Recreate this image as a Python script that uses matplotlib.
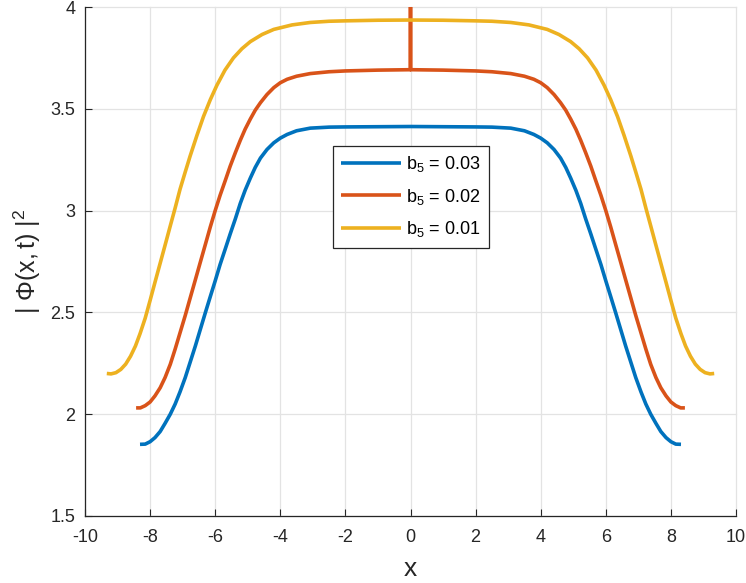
import matplotlib
matplotlib.use("Agg")
import matplotlib.pyplot as plt

plt.rcParams['font.family'] = ['Liberation Sans', 'DejaVu Sans']
plt.rcParams['mathtext.fontset'] = 'custom'
plt.rcParams['mathtext.rm'] = 'Liberation Sans'
plt.rcParams['mathtext.it'] = 'Liberation Sans'
plt.rcParams['mathtext.bf'] = 'Liberation Sans:bold'

# ---- data ----
x_b003 = [-8.31, -8.15, -8.00, -7.85, -7.69, -7.54, -7.38, -7.23, -7.08, -6.92, -6.77, -6.61,
          -6.46, -6.30, -6.15, -6.00, -5.85, -5.69, -5.54, -5.38, -5.23, -5.08, -4.92, -4.77,
          -4.61, -4.41, -4.20, -4.00, -3.79, -3.50, -3.08, -2.50, -2.00, -1.00, 0.00,
          1.00, 2.00, 2.50, 3.08, 3.50, 3.79, 4.00, 4.20, 4.41, 4.61, 4.77, 4.92, 5.08, 5.23,
          5.38, 5.54, 5.69, 5.85, 6.00, 6.15, 6.30, 6.46, 6.61, 6.77, 6.92, 7.08, 7.23, 7.38,
          7.54, 7.69, 7.85, 8.00, 8.15, 8.31]
y_b003 = [1.852, 1.853, 1.865, 1.885, 1.915, 1.955, 2.000, 2.050, 2.110, 2.180, 2.255, 2.335,
          2.415, 2.500, 2.578, 2.655, 2.735, 2.812, 2.885, 2.960, 3.035, 3.100, 3.160, 3.212,
          3.258, 3.300, 3.333, 3.356, 3.374, 3.392, 3.405, 3.410, 3.411, 3.412, 3.413,
          3.412, 3.411, 3.410, 3.405, 3.392, 3.374, 3.356, 3.333, 3.300, 3.258, 3.212, 3.160,
          3.100, 3.035, 2.960, 2.885, 2.812, 2.735, 2.655, 2.578, 2.500, 2.415, 2.335, 2.255,
          2.180, 2.110, 2.050, 2.000, 1.955, 1.915, 1.885, 1.865, 1.853, 1.852]

x_b002 = [-8.43, -8.30, -8.15, -8.00, -7.85, -7.69, -7.54, -7.38, -7.23, -7.08, -6.92, -6.77,
          -6.61, -6.46, -6.30, -6.15, -6.00, -5.85, -5.69, -5.54, -5.38, -5.23, -5.08, -4.92,
          -4.77, -4.61, -4.41, -4.20, -4.00, -3.79, -3.50, -3.08, -2.50, -2.00, -1.00, -0.01,
          0.00,
          0.01, 1.00, 2.00, 2.50, 3.08, 3.50, 3.79, 4.00, 4.20, 4.41, 4.61, 4.77, 4.92, 5.08,
          5.23, 5.38, 5.54, 5.69, 5.85, 6.00, 6.15, 6.30, 6.46, 6.61, 6.77, 6.92, 7.08, 7.23,
          7.38, 7.54, 7.69, 7.85, 8.00, 8.15, 8.30, 8.43]
y_b002 = [2.031, 2.031, 2.042, 2.060, 2.090, 2.130, 2.180, 2.245, 2.320, 2.400, 2.485, 2.570,
          2.660, 2.745, 2.835, 2.920, 3.000, 3.075, 3.148, 3.218, 3.285, 3.345, 3.400, 3.450,
          3.493, 3.530, 3.570, 3.604, 3.628, 3.645, 3.660, 3.673, 3.682, 3.686, 3.690, 3.692,
          4.000,
          3.692, 3.690, 3.686, 3.682, 3.673, 3.660, 3.645, 3.628, 3.604, 3.570, 3.530, 3.493,
          3.450, 3.400, 3.345, 3.285, 3.218, 3.148, 3.075, 3.000, 2.920, 2.835, 2.745, 2.660,
          2.570, 2.485, 2.400, 2.320, 2.245, 2.180, 2.130, 2.090, 2.060, 2.042, 2.031, 2.031]

x_b001 = [-9.33, -9.20, -9.05, -8.90, -8.75, -8.60, -8.45, -8.31, -8.15, -8.00, -7.85, -7.69,
          -7.54, -7.38, -7.23, -7.08, -6.92, -6.77, -6.56, -6.36, -6.15, -5.95, -5.70, -5.44,
          -5.18, -4.92, -4.56, -4.20, -3.64, -3.08, -2.50, -2.00, -1.00, 0.00,
          1.00, 2.00, 2.50, 3.08, 3.64, 4.20, 4.56, 4.92, 5.18, 5.44, 5.70, 5.95, 6.15, 6.36,
          6.56, 6.77, 6.92, 7.08, 7.23, 7.38, 7.54, 7.69, 7.85, 8.00, 8.15, 8.31, 8.45, 8.60,
          8.75, 8.90, 9.05, 9.20, 9.33]
y_b001 = [2.200, 2.198, 2.204, 2.220, 2.246, 2.285, 2.335, 2.395, 2.472, 2.559, 2.648, 2.742,
          2.830, 2.925, 3.013, 3.105, 3.190, 3.268, 3.370, 3.462, 3.545, 3.615, 3.690, 3.750,
          3.795, 3.830, 3.865, 3.890, 3.912, 3.924, 3.930, 3.932, 3.935, 3.936,
          3.935, 3.932, 3.930, 3.924, 3.912, 3.890, 3.865, 3.830, 3.795, 3.750, 3.690, 3.615,
          3.545, 3.462, 3.370, 3.268, 3.190, 3.105, 3.013, 2.925, 2.830, 2.742, 2.648, 2.559,
          2.472, 2.395, 2.335, 2.285, 2.246, 2.220, 2.204, 2.198, 2.200]

labels = ['b$_5$ = 0.03', 'b$_5$ = 0.02', 'b$_5$ = 0.01']
colors = ['#0072BD', '#D95319', '#EDB120']
x_ticks = [-10, -8, -6, -4, -2, 0, 2, 4, 6, 8, 10]
y_ticks = [1.5, 2, 2.5, 3, 3.5, 4]

fig = plt.figure(figsize=(7.46, 5.83), dpi=100)
ax = fig.add_axes([85/746, 1 - 516/583, 651/746, 509/583])

for xs, ys, lab, c in zip([x_b003, x_b002, x_b001], [y_b003, y_b002, y_b001], labels, colors):
    ax.plot(xs, ys, color=c, lw=2.6, label=lab, solid_joinstyle='round', solid_capstyle='butt')

ax.set_xlim(-10, 10)
ax.set_ylim(1.5, 4)
ax.set_xticks(x_ticks)
ax.set_yticks(y_ticks)
ax.set_xticklabels([str(v) for v in x_ticks])
ax.set_yticklabels(['1.5', '2', '2.5', '3', '3.5', '4'])
ax.grid(True, color='#e3e3e3', lw=0.9, clip_on=False)
ax.set_axisbelow(True)
for s in ['top', 'right']:
    ax.spines[s].set_visible(False)
for s in ['left', 'bottom']:
    ax.spines[s].set_color('#262626')
    ax.spines[s].set_linewidth(0.9)
ax.tick_params(direction='in', length=5, width=0.8, colors='#262626', labelsize=13,
               labelcolor='#262626')
ax.tick_params(axis='y', pad=7)
ax.tick_params(axis='x', pad=9)

ax.set_xlabel('x', fontsize=19, color='#262626', labelpad=8)
ax.set_ylabel(r'$|\ \Phi(x,t)\ |^2$', fontsize=18, color='#262626', labelpad=5)

leg = ax.legend(loc='upper left', bbox_to_anchor=(248/651, 370/509), fontsize=13,
                handlelength=3.3, frameon=True, fancybox=False, framealpha=1,
                edgecolor='#262626', borderpad=0.45, borderaxespad=0,
                labelspacing=0.7, handletextpad=0.3)
leg.get_frame().set_linewidth(0.9)

fig.savefig('out.png', dpi=100)
